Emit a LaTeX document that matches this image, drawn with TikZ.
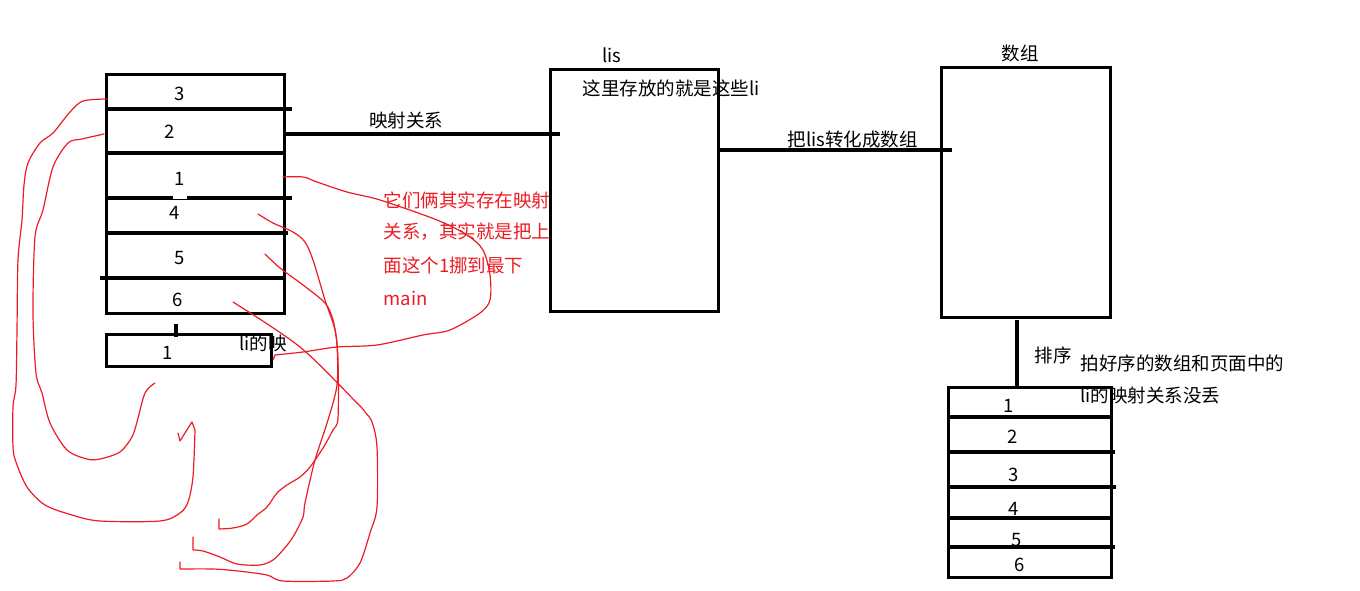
\documentclass[tikz,border=0pt]{standalone}
\usepackage{fontspec}
\setmainfont{Noto Sans CJK SC}
\usetikzlibrary{positioning}
\definecolor{pred}{RGB}{237,28,36}
\tikzset{
  every picture/.style={line width=3.2pt},
  frame/.style={draw, line width=3.2pt, inner sep=0pt, anchor=north west},
  lbl/.style={font=\fontsize{18.5}{20}\selectfont, inner sep=0pt},
  lblw/.style={lbl, anchor=west},
  rednote/.style={lbl, text=pred, anchor=west},
  scrib/.style={draw=pred, line width=1.2pt, line join=round, line cap=round},
}

\begin{document}
\begin{tikzpicture}[x=1pt, y=-1pt]
  \useasboundingbox (0,0) rectangle (1360,591);

  % the li elements on the page
  \node[frame, minimum width=178pt, minimum height=239pt] (stack) at (105,73) {};
  \foreach \y/\xa/\xb in {109/105/292, 153/105/283, 233/105/288, 278/100/283} { \draw (\xa,\y) -- (\xb,\y); }
  \draw (105,198) -- (173,198) (187,198) -- (292,198);
  \draw[line width=1pt] (173,199.5) -- (187,199.5);
  \foreach \n/\x/\y in {3/180/94, 2/170/132, 1/180/179, 4/175/213, 5/180/258, 6/178/300} {
    \node[lbl] (l\n) at (\x,\y) {\n};
  }
  \node[frame, minimum width=165pt, minimum height=32pt] (small) at (105,333) {};
  \node[lbl] (s1) at (168,353) {1};
  \coordinate (tick) at (176,324);
  \draw (tick) -- ++(0,13);
  \node[lblw] (smallnote) at (238,343) {li的映};

  % lis
  \node[frame, minimum width=168pt, minimum height=242pt] (lis) at (549,68) {};
  \node[lbl] (listitle) at (612,55) {lis};
  \node[lblw] (lisnote) at (581,88) {这里存放的就是这些li};
  \coordinate (mapend) at (560,134);
  \draw (stack.east |- mapend) -- (mapend);
  \node[lbl] (maplbl) at (406,120) {映射关系};

  % the array
  \node[frame, minimum width=169pt, minimum height=250pt] (arr) at (940,66) {};
  \node[lbl] (arrtitle) at (1020,53) {数组};
  \coordinate (convend) at (952,150);
  \draw (lis.east |- convend) -- (convend);
  \node[lblw] (convlbl) at (786,140) {把lis转化成数组};

  % sorted
  \node[frame, minimum width=163pt, minimum height=190pt] (sorted) at (947,386) {};
  \foreach \y/\xb in {417/1113, 452/1115, 487/1116, 518/1110, 547/1115} { \draw (947,\y) -- (\xb,\y); }
  \foreach \n/\x/\y in {1/1009/406, 2/1013/437, 3/1014/475, 4/1014/509, 5/1017/540, 6/1020/565} {
    \node[lbl] (r\n) at (\x,\y) {\n};
  }
  \coordinate (sorttop) at (1017,320);
  \draw (sorttop) -- (sorttop |- sorted.north);
  \node[lblw] (sortlbl) at (1033,355) {排序};
  \node[lblw] (keep1) at (1079,363) {拍好序的数组和页面中的};
  \node[lblw] (keep2) at (1079,395) {li的映射关系没丢};

  % red note and scribbles
  \node[rednote] (red1) at (382,200) {它们俩其实存在映射};
  \node[rednote] (red2) at (382,232) {关系，其实就是把上};
  \node[rednote] (red3) at (382,265) {面这个1挪到最下};
  \node[rednote] (red4) at (382,298) {main};
  \draw[scrib] plot[smooth, tension=0.5] coordinates {(107,99) (83,101) (70,112) (53,133) (40,143) (28,163) (24,185) (22,220) (18,260) (17,330) (16,385) (13,407) (13,447) (16,462) (27,487) (45,505) (72,515) (100,521) (160,521) (180,513) (188,502) (193,477) (195,430)}
    -- (192,422) -- (185,433) -- (180,441) -- (178,433);
  \draw[scrib] plot[smooth, tension=0.5] coordinates {(104,134) (82,139) (68,143) (53,167) (43,210) (35,237) (33,313) (36,373) (42,393) (50,423) (67,450) (87,459) (100,459) (120,452) (132,437) (137,422) (145,393) (155,383)};
  \draw[scrib] plot[smooth, tension=0.5] coordinates {(283,177) (303,177) (317,182) (347,192) (380,200) (437,220) (467,235) (483,250) (490,275) (490,300) (480,313) (450,330) (423,335) (377,345) (337,347) (303,352) (275,355)} -- (273,360);
  \draw[scrib] plot[smooth, tension=0.5] coordinates {(258,214) (273,223) (293,232) (305,242) (313,260) (325,300) (335,330) (338,360) (338,418) (333,430) (323,448) (310,467) (300,477) (287,485) (277,493) (267,507) (257,515) (247,524) (233,528) (219,529)} -- (219,519);
  \draw[scrib] plot[smooth, tension=0.5] coordinates {(265,254) (280,268) (303,285) (325,303) (333,320) (337,345) (337,385) (328,420) (315,460) (305,503) (303,517) (293,537) (283,550) (273,560) (260,565) (237,564) (220,557) (203,551) (193,550)} -- (193,537);
  \draw[scrib] plot[smooth, tension=0.5] coordinates {(233,302) (300,347) (357,403) (365,412) (372,422) (377,447) (377,507) (370,533) (360,563) (347,578) (333,581) (283,581) (267,575) (238,571) (213,569) (180,569)} -- (180,562);
\end{tikzpicture}
\end{document}
